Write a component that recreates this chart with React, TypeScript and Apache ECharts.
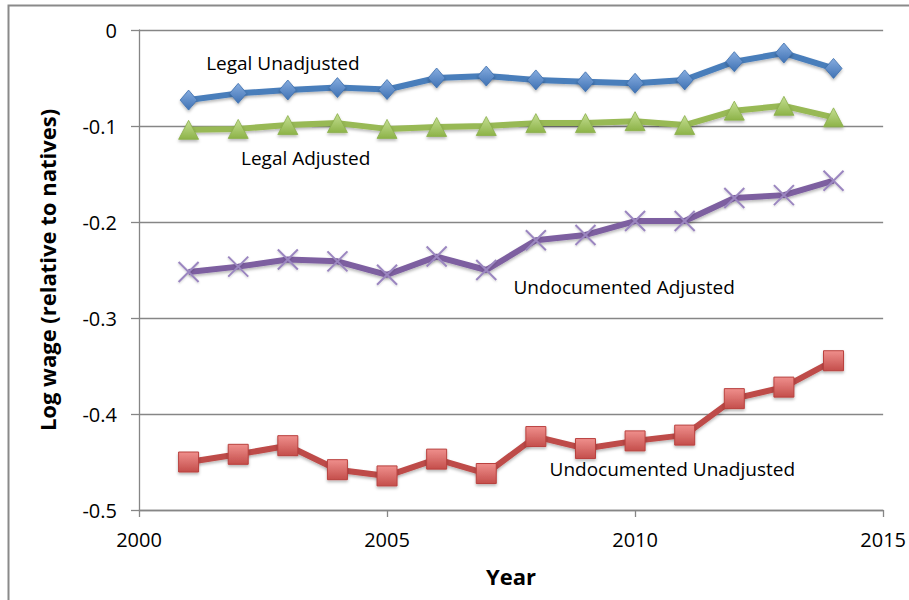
import React, { useEffect, useRef } from "react";
import * as echarts from "echarts";

// Years observed
const years = [2001, 2002, 2003, 2004, 2005, 2006, 2007, 2008, 2009, 2010, 2011, 2012, 2013, 2014];

// Log wage gaps relative to natives
const legalUnadjusted = [-0.073, -0.066, -0.0625, -0.060, -0.062, -0.050, -0.048, -0.052, -0.054, -0.0555, -0.052, -0.033, -0.024, -0.040];
const legalAdjusted = [-0.104, -0.103, -0.099, -0.097, -0.103, -0.101, -0.100, -0.097, -0.097, -0.095, -0.099, -0.084, -0.079, -0.091];
const undocAdjusted = [-0.252, -0.2465, -0.239, -0.241, -0.255, -0.236, -0.250, -0.219, -0.2135, -0.199, -0.199, -0.175, -0.172, -0.157];
const undocUnadjusted = [-0.450, -0.442, -0.433, -0.458, -0.4645, -0.447, -0.462, -0.4235, -0.436, -0.428, -0.422, -0.384, -0.372, -0.3445];

// Axis ticks
const xTicks = { min: 2000, max: 2015, interval: 5 };
const yTicks = { min: -0.5, max: 0, interval: 0.1 };

// Series annotations: text and anchor in data coordinates
const annotationTexts = ["Legal Unadjusted", "Legal Adjusted", "Undocumented Adjusted", "Undocumented Unadjusted"];
const annotationAnchors: [number, number][] = [
  [2002.9, -0.0344],
  [2003.36, -0.1333],
  [2009.78, -0.2677],
  [2010.75, -0.457],
];

const FONT = "'Open Sans', 'Noto Sans', sans-serif";
const AXIS_GRAY = "#868686";

const pair = (vals: number[]) => years.map((y, i) => [y, vals[i]]);

const grad = (top: string, bottom: string) =>
  new echarts.graphic.LinearGradient(0, 0, 0, 1, [
    { offset: 0, color: top },
    { offset: 1, color: bottom },
  ]);

const lineShadow = {
  shadowColor: "rgba(0,0,0,0.28)",
  shadowBlur: 3,
  shadowOffsetY: 2,
};

export default function App() {
  const ref = useRef<HTMLDivElement>(null);

  useEffect(() => {
    if (!ref.current) return;
    const chart = echarts.init(ref.current, null, { renderer: "svg" });

    const option: any = {
      animation: false,
      backgroundColor: "#ffffff",
      grid: { left: 139, top: 30, width: 745, height: 480, containLabel: false },
      xAxis: {
        type: "value",
        min: xTicks.min,
        max: xTicks.max,
        interval: xTicks.interval,
        name: "Year",
        nameLocation: "middle",
        nameGap: 55,
        nameTextStyle: { fontFamily: FONT, fontSize: 22, fontWeight: "bold", color: "#000" },
        axisLine: { show: true, onZero: false, lineStyle: { color: AXIS_GRAY, width: 1.3 } },
        axisTick: { show: true, length: 7, inside: false, lineStyle: { color: AXIS_GRAY, width: 1.3 } },
        axisLabel: {
          fontFamily: FONT,
          fontSize: 20,
          color: "#000",
          margin: 19,
          formatter: (v: number) => String(Math.round(v)),
        },
        splitLine: { show: false },
      },
      yAxis: {
        type: "value",
        min: yTicks.min,
        max: yTicks.max,
        interval: yTicks.interval,
        name: "Log wage (relative to natives)",
        nameLocation: "middle",
        nameGap: 81,
        nameTextStyle: { fontFamily: FONT, fontSize: 22, fontWeight: "bold", color: "#000" },
        axisLine: { show: true, lineStyle: { color: AXIS_GRAY, width: 1.3 } },
        axisTick: { show: true, length: 8, lineStyle: { color: AXIS_GRAY, width: 1.3 } },
        axisLabel: {
          fontFamily: FONT,
          fontSize: 20,
          color: "#000",
          margin: 22,
          formatter: (v: number) => (Math.abs(v) < 1e-9 ? "0" : v.toFixed(1)),
        },
        splitLine: { show: true, lineStyle: { color: AXIS_GRAY, width: 1.3 } },
      },
      series: [
        {
          name: "Legal Unadjusted",
          type: "line",
          data: pair(legalUnadjusted),
          symbol: "diamond",
          symbolSize: [17, 20],
          lineStyle: { color: "#4a7ebb", width: 6, ...lineShadow },
          itemStyle: {
            color: grad("#86acdf", "#3f72b4"),
            borderColor: "#3d6fae",
            borderWidth: 0.8,
            ...lineShadow,
          },
          z: 4,
        },
        {
          name: "Legal Adjusted",
          type: "line",
          data: pair(legalAdjusted),
          symbol: "triangle",
          symbolSize: [20, 19],
          lineStyle: { color: "#98b954", width: 6, ...lineShadow },
          itemStyle: {
            color: grad("#c4de92", "#8db348"),
            borderColor: "#8aae4a",
            borderWidth: 0.8,
            ...lineShadow,
          },
          z: 3,
        },
        {
          name: "Undocumented Adjusted",
          type: "line",
          data: pair(undocAdjusted),
          symbol: "path://M0,0 L10,10 M10,0 L0,10",
          symbolSize: 20,
          lineStyle: { color: "#7d5fa0", width: 6, ...lineShadow },
          itemStyle: {
            color: "rgba(0,0,0,0)",
            borderColor: "#9b86c0",
            borderWidth: 2,
            shadowColor: "rgba(0,0,0,0.2)",
            shadowBlur: 2,
            shadowOffsetY: 1,
          },
          z: 2,
        },
        {
          name: "Undocumented Unadjusted",
          type: "line",
          data: pair(undocUnadjusted),
          symbol: "rect",
          symbolSize: 20,
          lineStyle: { color: "#be4b48", width: 6, ...lineShadow },
          itemStyle: {
            color: grad("#ef8f8c", "#c44e4b"),
            borderColor: "#b9413e",
            borderWidth: 1,
            ...lineShadow,
          },
          z: 1,
        },
      ],
    };

    chart.setOption(option);

    // Place the series annotations from their data-space anchors
    const texts = annotationTexts.map((t, i) => {
      const [px, py] = chart.convertToPixel({ gridIndex: 0 }, annotationAnchors[i]) as number[];
      return {
        type: "text",
        x: px,
        y: py,
        style: {
          text: t,
          fontFamily: FONT,
          fontSize: 19,
          fill: "#000",
          align: "center",
          verticalAlign: "middle",
        },
        z: 10,
      };
    });

    chart.setOption({
      graphic: [
        // Outer chart-area frame (left and top edges)
        {
          type: "polyline",
          shape: { points: [[8.5, 600], [8.5, 5.5], [909, 5.5]] },
          style: { stroke: "#8a8a8a", lineWidth: 2, fill: "none" },
          silent: true,
        },
        ...texts,
      ],
    });

    return () => chart.dispose();
  }, []);

  return (
    <div
      ref={ref}
      style={{ position: "fixed", left: 0, top: 0, width: 909, height: 600, background: "#fff" }}
    />
  );
}
